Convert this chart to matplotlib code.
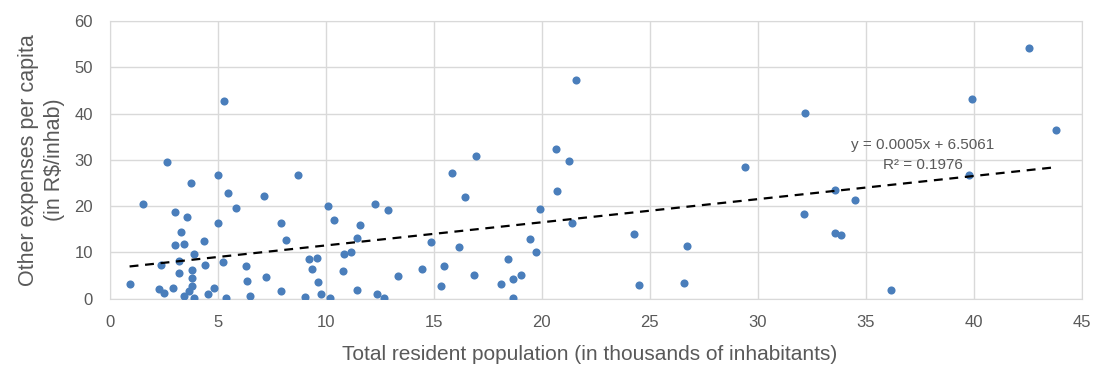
import matplotlib
matplotlib.use("Agg")
import matplotlib.pyplot as plt
import numpy as np

# total resident population (thousands) and other expenses per capita (R$/inhab)
population = [0.92, 1.52, 2.63, 2.37, 2.29, 2.49, 2.92, 3.02, 3.29, 3.02,
              3.45, 3.58, 3.77, 3.2, 3.2, 3.88, 3.83, 3.83, 3.83, 3.65,
              3.45, 3.88, 4.35, 4.43, 4.82, 4.54, 5.0, 5.02, 5.26, 5.29,
              5.48, 5.38, 5.86, 6.29, 6.34, 6.49, 7.14, 7.25, 7.95, 8.15,
              7.92, 8.72, 9.06, 9.23, 9.58, 9.38, 9.63, 9.77, 10.18, 10.09,
              10.4, 10.85, 10.82, 11.19, 11.47, 11.61, 11.44, 12.3, 12.39, 12.69,
              12.88, 13.36, 14.44, 14.88, 15.48, 15.34, 15.83, 16.17, 16.44, 16.88,
              16.94, 18.14, 18.44, 18.67, 18.67, 19.03, 19.45, 19.73, 19.92, 20.66,
              20.7, 21.28, 21.39, 21.61, 24.28, 24.53, 26.73, 26.59, 29.43, 32.21,
              32.17, 33.6, 33.6, 33.84, 34.49, 36.16, 39.92, 39.8, 42.59, 43.8]
expenses = [3.2, 20.4, 29.5, 7.3, 2.2, 1.2, 2.3, 18.8, 14.4, 11.7,
            11.9, 17.7, 25.0, 8.1, 5.6, 9.7, 6.2, 4.5, 2.7, 1.65,
            0.6, 0.14, 12.4, 7.2, 2.3, 1.0, 26.8, 16.4, 7.9, 42.7,
            22.8, 0.14, 19.5, 7.0, 3.9, 0.6, 22.2, 4.7, 16.4, 12.6,
            1.65, 26.8, 0.3, 8.5, 8.8, 6.5, 3.7, 1.0, 0.14, 20.1,
            17.05, 9.7, 6.0, 10.1, 13.2, 15.9, 1.9, 20.4, 1.0, 0.14,
            19.1, 5.0, 6.5, 12.2, 7.0, 2.7, 27.1, 11.2, 21.9, 5.2,
            30.9, 3.2, 8.6, 4.3, 0.14, 5.2, 13.0, 10.1, 19.3, 32.4,
            23.3, 29.8, 16.4, 47.3, 14.0, 3.0, 11.4, 3.45, 28.4, 40.2,
            18.3, 23.5, 14.2, 13.7, 21.4, 1.9, 43.1, 26.7, 54.2, 36.4]

# linear trendline (per inhabitant: y = 0.0005x + 6.5061)
slope = 0.0005 * 1000
intercept = 6.5061
eq_label = "y = 0.0005x + 6.5061"
r2_label = "R² = 0.1976"

plt.rcParams['font.family'] = ['Liberation Sans', 'DejaVu Sans']
grey = '#595959'

fig = plt.figure(figsize=(10.94, 3.67), dpi=100)
ax = fig.add_axes([0.1003, 0.1861, 0.8883, 0.7567])

ax.scatter(population, expenses, s=34, color='#4A7EBB', zorder=3, linewidths=0)

xs = np.array([min(population), max(population)])
ax.plot(xs, slope * xs + intercept, color='black', linestyle=(0, (4, 3)), linewidth=1.6, zorder=4)

ax.text(37.66, 33.2, eq_label, ha='center', va='center', fontsize=11, color=grey)
ax.text(37.66, 28.9, r2_label, ha='center', va='center', fontsize=11, color=grey)

ax.set_xlim(0, 45)
ax.set_ylim(0, 60)
ax.set_xticks(range(0, 46, 5))
ax.set_yticks(range(0, 61, 10))
ax.grid(True, color='#D9D9D9', linewidth=1)
ax.set_axisbelow(True)
for sp in ax.spines.values():
    sp.set_color('#D9D9D9')
ax.tick_params(length=0, labelsize=12, colors=grey)
ax.tick_params(axis='y', pad=12)
ax.tick_params(axis='x', pad=12)

fig.text(0.539, 0.033, "Total resident population (in thousands of inhabitants)",
         ha='center', va='center', fontsize=15, color=grey)
fig.text(0.038, 0.564, "Other expenses per capita\n(in R$/inhab)", rotation=90,
         ha='center', va='center', fontsize=15.5, color=grey, linespacing=1.3,
         multialignment='center')

fig.savefig("out.png", dpi=100)
